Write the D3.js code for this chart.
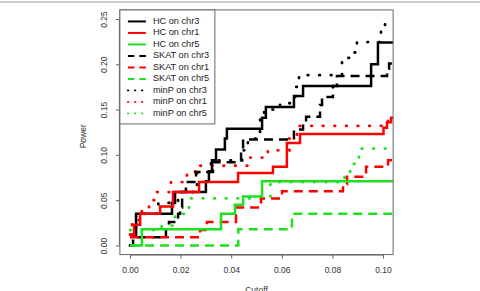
<!DOCTYPE html>
<html>
<head>
<meta charset="utf-8">
<script src="https://cdn.jsdelivr.net/npm/d3@7"></script>
<style>
  body { margin: 0; background: #fff; }
  svg { display: block; font-family: "Liberation Sans", Arial, sans-serif; }
</style>
</head>
<body>
<div id="canvas"></div>
<script>
// power vs cutoff, step functions
const hcChr3Cut = [0, 0.0024, 0.0166, 0.0178, 0.0300, 0.0312, 0.0324, 0.0340, 0.0375, 0.0383, 0.0522, 0.0537, 0.0648, 0.0684, 0.0953, 0.0980];
const hcChr3Pow = [0.012, 0.035, 0.047, 0.059, 0.071, 0.082, 0.094, 0.106, 0.118, 0.129, 0.141, 0.153, 0.165, 0.176, 0.200, 0.224];
const hcChr1Cut = [0, 0.0016, 0.0040, 0.0119, 0.0170, 0.0273, 0.0427, 0.0565, 0.0620, 0.0672, 0.1002, 0.1016, 0.1032];
const hcChr1Pow = [0.012, 0.023, 0.035, 0.043, 0.059, 0.070, 0.080, 0.087, 0.113, 0.123, 0.130, 0.136, 0.141];
const hcChr5Cut = [0, 0.0047, 0.0360, 0.0415, 0.0447, 0.0522];
const hcChr5Pow = [0, 0.018, 0.035, 0.045, 0.054, 0.071];

const skatChr3Cut = [0, 0.0012, 0.0142, 0.0154, 0.0190, 0.0198, 0.0206, 0.0221, 0.0261, 0.0328, 0.0439, 0.0447, 0.0648, 0.0684, 0.0696, 0.0751, 0.0759, 0.0802, 0.0818, 0.1016, 0.1024];
const skatChr3Pow = [0, 0.009, 0.018, 0.026, 0.035, 0.042, 0.059, 0.070, 0.081, 0.092, 0.104, 0.117, 0.128, 0.136, 0.142, 0.155, 0.164, 0.176, 0.187, 0.195, 0.201];
const skatChr1Cut = [0, 0.0277, 0.0304, 0.0419, 0.0518, 0.0601, 0.0842, 0.0858, 0.0933, 0.1020];
const skatChr1Pow = [0.009, 0.017, 0.026, 0.042, 0.052, 0.060, 0.068, 0.076, 0.087, 0.094];
const skatChr5Cut = [0, 0.0428, 0.0640];
const skatChr5Pow = [0, 0.018, 0.035];

const minpChr3Cut = [0, 0.0008, 0.0024, 0.0112, 0.0190, 0.0265, 0.0320, 0.0443, 0.0466, 0.0514, 0.0530, 0.0593, 0.0640, 0.0656, 0.0668, 0.0838, 0.0870, 0.0897, 0.0992, 0.1008];
const minpChr3Pow = [0, 0.012, 0.035, 0.047, 0.059, 0.081, 0.094, 0.105, 0.118, 0.140, 0.150, 0.157, 0.164, 0.175, 0.188, 0.207, 0.213, 0.2245, 0.236, 0.247];
const minpChr1Cut = [0, 0.0008, 0.0047, 0.0075, 0.0103, 0.0162, 0.0225, 0.0257, 0.0470, 0.0545, 0.0630, 0.0660, 0.1020];
const minpChr1Pow = [0.012, 0.028, 0.041, 0.050, 0.059, 0.070, 0.080, 0.088, 0.097, 0.105, 0.118, 0.132, 0.140];
const minpChr5Cut = [0, 0.0125, 0.0178, 0.0233, 0.0555, 0.0848, 0.0870, 0.0890, 0.0905];
const minpChr5Pow = [0.017, 0.022, 0.035, 0.052, 0.070, 0.080, 0.090, 0.097, 0.107];

const xTicks = [0, 0.02, 0.04, 0.06, 0.08, 0.10];
const yTicks = [0, 0.05, 0.10, 0.15, 0.20, 0.25];

const series = [
  { name: "HC on chr3", cut: hcChr3Cut, pow: hcChr3Pow, color: "#000000", type: "solid" },
  { name: "HC on chr1", cut: hcChr1Cut, pow: hcChr1Pow, color: "#ff0000", type: "solid" },
  { name: "HC on chr5", cut: hcChr5Cut, pow: hcChr5Pow, color: "#1ee01e", type: "solid" },
  { name: "SKAT on chr3", cut: skatChr3Cut, pow: skatChr3Pow, color: "#000000", type: "dashed" },
  { name: "SKAT on chr1", cut: skatChr1Cut, pow: skatChr1Pow, color: "#ff0000", type: "dashed" },
  { name: "SKAT on chr5", cut: skatChr5Cut, pow: skatChr5Pow, color: "#1ee01e", type: "dashed" },
  { name: "minP on chr3", cut: minpChr3Cut, pow: minpChr3Pow, color: "#000000", type: "dotted" },
  { name: "minP on chr1", cut: minpChr1Cut, pow: minpChr1Pow, color: "#ff0000", type: "dotted" },
  { name: "minP on chr5", cut: minpChr5Cut, pow: minpChr5Pow, color: "#1ee01e", type: "dotted" }
];

const width = 480;
const height = 291;

const x = d3.scaleLinear().domain([0, 0.1]).range([130, 383]);
const y = d3.scaleLinear().domain([0, 0.25]).range([245.5, 19]);
const xMax = 0.104;
const pLeft = x(-0.004), pRight = x(0.104);
const pTop = y(0.26), pBottom = y(-0.01);

const svg = d3.select("#canvas").append("svg")
  .attr("width", width)
  .attr("height", height);

svg.append("clipPath").attr("id", "plotclip")
  .append("rect")
  .attr("x", pLeft).attr("y", pTop)
  .attr("width", pRight - pLeft).attr("height", pBottom - pTop);

const dash = { solid: null, dashed: "9,6", dotted: "0.6,11" };
const cap = { solid: "butt", dashed: "butt", dotted: "round" };

const line = d3.line()
  .x((d) => x(d[0]))
  .y((d) => y(d[1]))
  .curve(d3.curveStepAfter);

const plot = svg.append("g").attr("clip-path", "url(#plotclip)");

// draw dotted first, then dashed, then solid on top
const drawOrder = [6, 7, 8, 3, 4, 5, 0, 1, 2].map((i) => series[i]);
drawOrder.forEach((s) => {
  const pts = s.cut.map((c, i) => [c, s.pow[i]]);
  pts.push([xMax, s.pow[s.pow.length - 1]]);
  plot.append("path")
    .datum(pts)
    .attr("fill", "none")
    .attr("stroke", s.color)
    .attr("stroke-width", s.type === "dotted" ? 2.8 : 2.5)
    .attr("stroke-dasharray", dash[s.type])
    .attr("stroke-linecap", cap[s.type])
    .attr("d", line);
});

// plot box
svg.append("rect")
  .attr("x", pLeft).attr("y", pTop)
  .attr("width", pRight - pLeft).attr("height", pBottom - pTop)
  .attr("fill", "none")
  .attr("stroke", "#666")
  .attr("stroke-width", 1);

// x axis
const xAxis = svg.append("g")
  .attr("transform", `translate(0,${pBottom})`)
  .call(d3.axisBottom(x).tickValues(xTicks).tickFormat(d3.format(".2f")).tickSize(4).tickPadding(8));
xAxis.select(".domain").attr("d", `M${x(0)},0.5H${x(0.1)}`).attr("stroke", "#666");
xAxis.selectAll(".tick line").attr("stroke", "#666");
xAxis.selectAll("text").attr("font-size", 8.5).attr("fill", "#333").attr("font-family", "Liberation Sans, Arial, sans-serif");

// y axis
const yAxis = svg.append("g")
  .attr("transform", `translate(${pLeft},0)`)
  .call(d3.axisLeft(y).tickValues(yTicks).tickFormat(d3.format(".2f")).tickSize(4).tickPadding(0));
yAxis.select(".domain").attr("d", `M-0.5,${y(0)}V${y(0.25)}`).attr("stroke", "#666");
yAxis.selectAll(".tick line").attr("stroke", "#666");
yAxis.selectAll("text")
  .attr("font-size", 8.5).attr("fill", "#333")
  .attr("font-family", "Liberation Sans, Arial, sans-serif")
  .attr("x", null).attr("dy", null)
  .attr("text-anchor", "middle")
  .attr("transform", "translate(-15,0) rotate(-90)")
  .attr("dominant-baseline", "middle");

// axis titles
svg.append("text")
  .attr("x", (pLeft + pRight) / 2).attr("y", 287)
  .attr("text-anchor", "middle")
  .attr("dominant-baseline", "hanging")
  .attr("font-size", 8.5).attr("fill", "#333")
  .text("Cutoff");
svg.append("text")
  .attr("transform", `translate(84,${(pTop + pBottom) / 2 + 4}) rotate(-90)`)
  .attr("text-anchor", "middle")
  .attr("dominant-baseline", "middle")
  .attr("font-size", 8.5).attr("fill", "#333")
  .text("Power");

// legend (top left)
const legW = 95, legH = 114, rowH = 11.5;
const leg = svg.append("g").attr("transform", `translate(${pLeft},${pTop})`);
leg.append("rect")
  .attr("width", legW).attr("height", legH)
  .attr("fill", "#fff").attr("stroke", "#666").attr("stroke-width", 1);
const legDash = { solid: null, dashed: "6.5,5", dotted: "0.5,6.5" };
series.forEach((s, i) => {
  const ry = 11.5 + i * rowH;
  leg.append("line")
    .attr("x1", 8).attr("x2", 26)
    .attr("y1", ry).attr("y2", ry)
    .attr("stroke", s.color)
    .attr("stroke-width", s.type === "dotted" ? 1.8 : 2)
    .attr("stroke-dasharray", legDash[s.type])
    .attr("stroke-linecap", cap[s.type]);
  leg.append("text")
    .attr("x", 33).attr("y", ry)
    .attr("dominant-baseline", "middle")
    .attr("font-size", 9.2).attr("fill", "#222")
    .text(s.name);
});

// outer frame line at top
svg.append("line")
  .attr("x1", 0).attr("x2", width)
  .attr("y1", 2).attr("y2", 2)
  .attr("stroke", "#999").attr("stroke-width", 1);
</script>
</body>
</html>
